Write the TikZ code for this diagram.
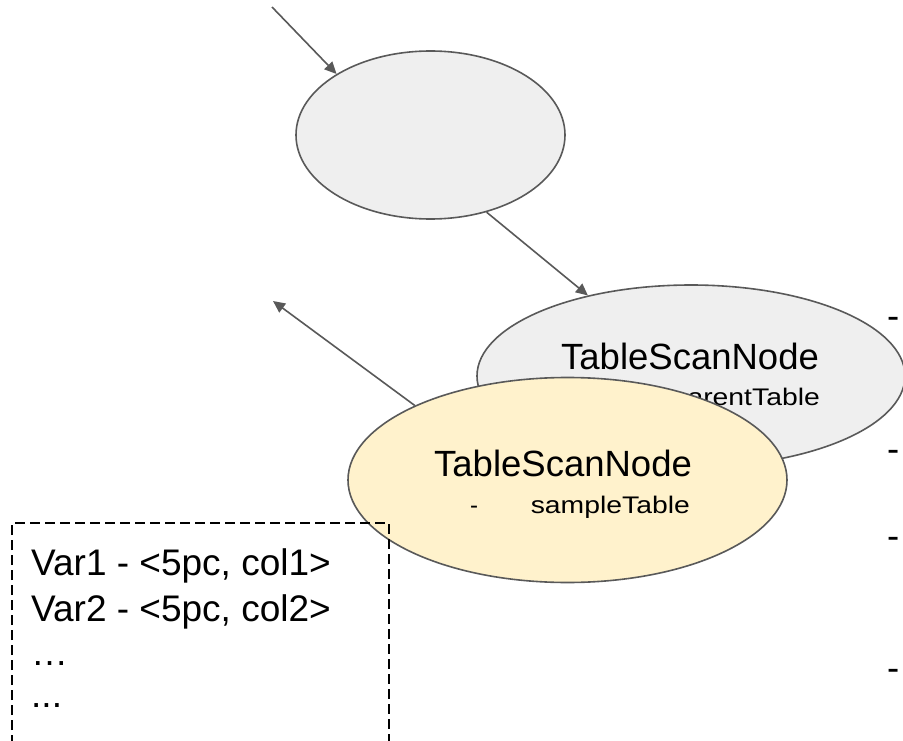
\documentclass[tikz,border=0pt]{standalone}
\usepackage{fontspec}
\setmainfont{Liberation Sans}
\usetikzlibrary{arrows.meta,shapes.geometric}
\definecolor{edgegray}{HTML}{595959}
\definecolor{fillgray}{HTML}{EFEFEF}
\definecolor{fillyellow}{HTML}{FFF2CC}
\tikzset{
  ovalnode/.style={ellipse, draw=edgegray, line width=1.6pt, inner sep=0pt},
  bigtext/.style={font=\fontsize{36.5}{43}\selectfont, inner sep=0pt},
  vartext/.style={font=\fontsize{37}{43}\selectfont, inner sep=0pt},
  smalltext/.style={font=\fontsize{24}{29}\selectfont, inner sep=0pt},
  arr/.style={draw=edgegray, line width=1.6pt, -{Triangle[length=12pt,width=11pt]}},
  dashbox/.style={draw=black, line width=1.5pt, dash pattern=on 10pt off 5pt}
}
\begin{document}
\begin{tikzpicture}[x=1pt,y=-1pt]
\clip (0,0) rectangle (903,741);
\fill[white] (0,0) rectangle (903,741);
% top ellipse
\node[ovalnode, fill=fillgray, minimum width=269pt, minimum height=168pt] (top) at (430.5,135) {};
% grey table scan node
\node[ovalnode, fill=fillgray, minimum width=428pt, minimum height=182pt] (gray) at (691,376) {};
\node[bigtext, anchor=base] (gtitle) at (690,369) {TableScanNode};
\node[smalltext, anchor=base] (gdash) at (602,405) {-};
\node[smalltext, anchor=base east] (gsub) at (820,405) {\scalebox{1.18}[1]{parentTable}};
% arrows
\coordinate (s1) at (272,7);
\draw[arr] (s1) -- (top.147.4);
\draw[arr] (top.-54) -- (gray.142.5);
% yellow table scan node
\node[ovalnode, fill=fillyellow, minimum width=439pt, minimum height=205pt] (yel) at (567.5,480) {};
\node[bigtext, anchor=base] (ytitle) at (563,476) {TableScanNode};
\node[smalltext, anchor=base] (ydash) at (474,513) {-};
\node[smalltext, anchor=base east] (ysub) at (690,513) {\scalebox{1.18}[1]{sampleTable}};
\coordinate (e3) at (273,301);
\draw[arr] (yel.154.4) -- (e3);
% dashed box with variables
\draw[dashbox] (12,760) -- (12,523) -- (389,523) -- (389,760);
\node[vartext, anchor=base west] (v1) at (31,575) {Var1 - <5pc, col1>};
\node[vartext, anchor=base west] (v2) at (31,621) {Var2 - <5pc, col2>};
\node[vartext, anchor=base west] (v3) at (31,665) {…};
\node[vartext, anchor=base west] (v4) at (31,707) {...};
% right edge dashes
\node[bigtext, anchor=base west] (r1) at (887,328) {-};
\node[bigtext, anchor=base west] (r2) at (887,461) {-};
\node[bigtext, anchor=base west] (r3) at (887,548) {-};
\node[bigtext, anchor=base west] (r4) at (887,680) {-};
\end{tikzpicture}
\end{document}
